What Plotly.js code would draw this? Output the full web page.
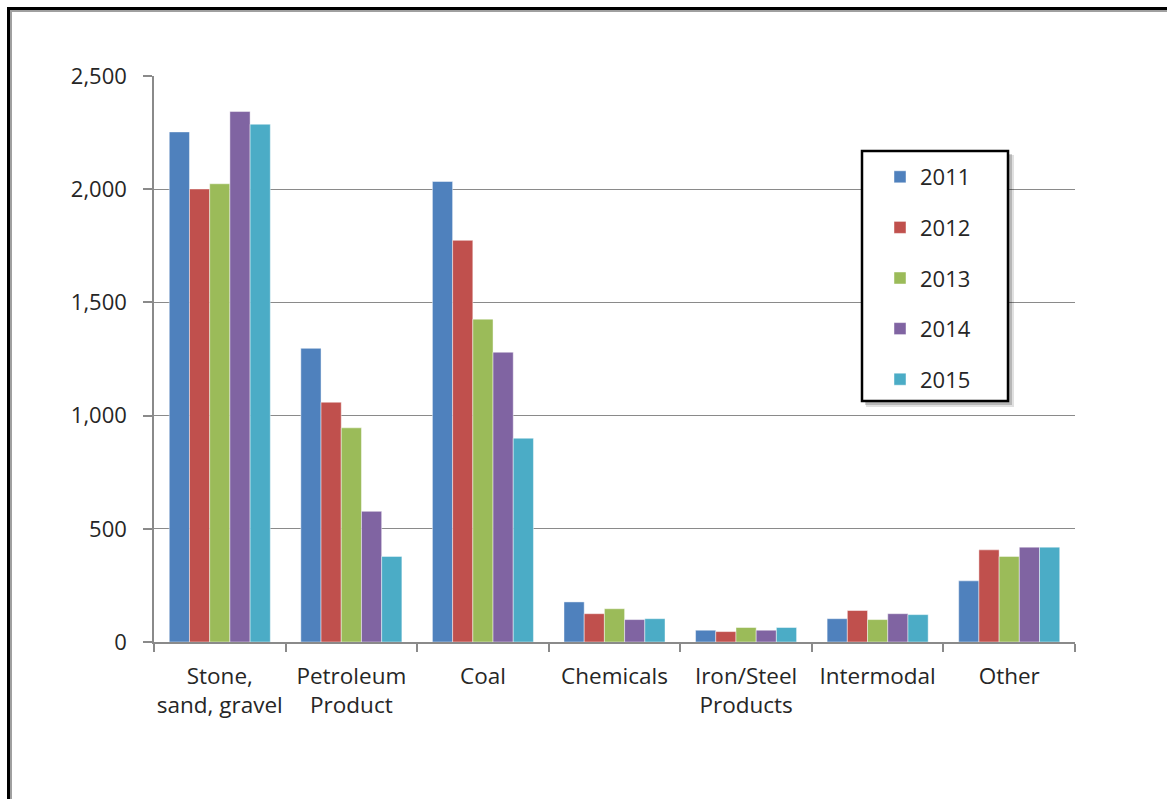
<!DOCTYPE html>
<html>
<head>
<meta charset="utf-8">
<script src="https://cdn.plot.ly/plotly-3.0.1.min.js"></script>
<style>
  html, body { margin: 0; padding: 0; background: #fff; overflow: hidden; }
  #wrap { position: relative; width: 1167px; height: 799px; }
  #chart { position: absolute; left: 0; top: 0; width: 1167px; height: 799px; }
  #frameOuter { position: absolute; left: 7px; top: 7px; width: 1300px; height: 900px;
    border-left: 3px solid #000; border-top: 3px solid #000; pointer-events: none; box-sizing: border-box; }
  #frameInner { position: absolute; left: 10px; top: 10px; width: 1300px; height: 900px;
    border-left: 2px solid #a0a0a0; border-top: 2px solid #a0a0a0; pointer-events: none; box-sizing: border-box; }
</style>
</head>
<body>
<div id="wrap">
  <div id="chart"></div>
  <div id="frameOuter"></div>
  <div id="frameInner"></div>
</div>
<script>
const categories = ["Stone,<br>sand, gravel", "Petroleum<br>Product", "Coal", "Chemicals",
                    "Iron/Steel<br>Products", "Intermodal", "Other"];
const years = ["2011", "2012", "2013", "2014", "2015"];
const v2011 = [2253, 1297, 2034, 177, 52, 103, 270];
const v2012 = [2001, 1059, 1774, 125, 46, 139, 407];
const v2013 = [2024, 946, 1426, 147, 64, 99, 378];
const v2014 = [2343, 577, 1280, 99, 52, 125, 419];
const v2015 = [2287, 378, 900, 103, 64, 121, 419];
const seriesValues = [v2011, v2012, v2013, v2014, v2015];
const colors = ["#4F81BD", "#C0504D", "#9BBB59", "#8064A2", "#4BACC6"];

const FONT = "'Open Sans', Lato, sans-serif";

const traces = years.map((y, i) => ({
  type: "bar",
  name: y,
  x: categories,
  y: seriesValues[i],
  legendgroup: "g" + i,
  marker: { color: colors[i], line: { color: "rgba(255,255,255,0.45)", width: 1 } },
  hoverinfo: "x+y+name"
}));

// plot area mapping helpers for decorative legend box (pixels -> paper)
const L = 154, R = 1075, T = 76, B = 642;
const px = v => (v - L) / (R - L);
const py = v => (B - v) / (B - T);

const layout = {
  width: 1167, height: 799,
  margin: { l: L, r: 1167 - R, t: T, b: 799 - B, pad: 0 },
  paper_bgcolor: "#ffffff",
  plot_bgcolor: "#ffffff",
  font: { family: FONT, size: 22, color: "#262626" },
  barmode: "group",
  bargap: 0.232,
  bargroupgap: 0,
  showlegend: true,
  legend: {
    x: px(880), y: py(156), xanchor: "left", yanchor: "top",
    bgcolor: "rgba(0,0,0,0)", borderwidth: 0,
    font: { family: FONT, size: 22, color: "#262626" },
    tracegroupgap: 19, traceorder: "grouped"
  },
  xaxis: {
    type: "category",
    showline: true, linecolor: "#8a8a8a", linewidth: 1.5,
    ticks: "outside", tickson: "boundaries", ticklen: 8, tickcolor: "#8a8a8a", tickwidth: 1.5,
    showgrid: false, zeroline: false, tickangle: 0,
    tickfont: { family: FONT, size: 22.5, color: "#262626" },
    ticklabelstandoff: 13
  },
  yaxis: {
    range: [0, 2500], dtick: 500, tick0: 0, tickformat: ",",
    showline: true, linecolor: "#8a8a8a", linewidth: 1.5,
    ticks: "outside", ticklen: 9, tickcolor: "#8a8a8a", tickwidth: 1.5,
    showgrid: true, gridcolor: "#8a8a8a", gridwidth: 1.2,
    zeroline: false,
    tickfont: { family: FONT, size: 22, color: "#262626" },
    ticklabelstandoff: 12
  },
  shapes: [
    // legend shadow
    { type: "rect", xref: "paper", yref: "paper", x0: px(866), x1: px(1014), y0: py(407), y1: py(155),
      line: { width: 0 }, fillcolor: "rgba(0,0,0,0.12)", layer: "above" },
    { type: "rect", xref: "paper", yref: "paper", x0: px(865), x1: px(1012), y0: py(405), y1: py(154),
      line: { width: 0 }, fillcolor: "rgba(0,0,0,0.18)", layer: "above" },
    // legend box
    { type: "rect", xref: "paper", yref: "paper", x0: px(862), x1: px(1008), y0: py(401), y1: py(151),
      line: { width: 2.5, color: "#000" }, fillcolor: "#ffffff", layer: "above" }
  ]
};

Plotly.newPlot("chart", traces, layout, { displayModeBar: false, staticPlot: false });
</script>
</body>
</html>
